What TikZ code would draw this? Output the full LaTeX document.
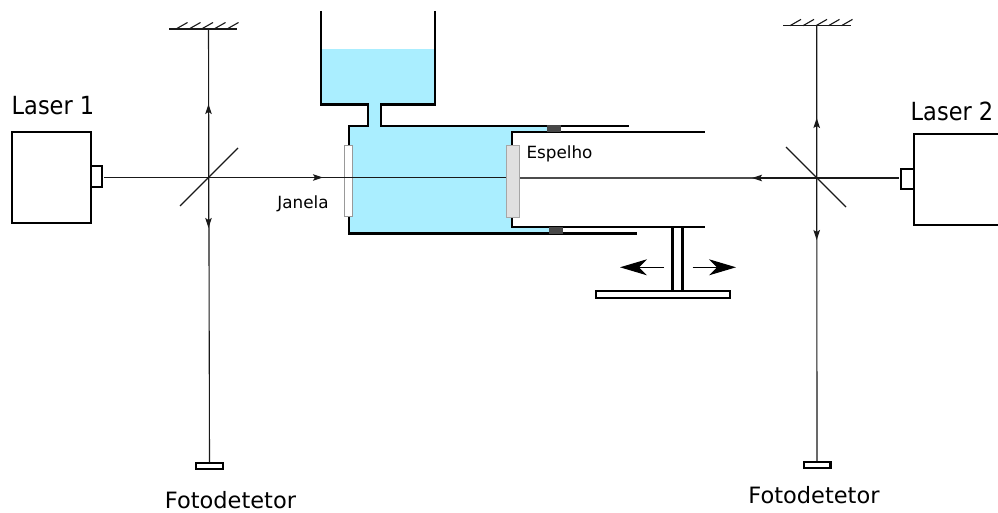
\documentclass[tikz,border=0pt]{standalone}
\usepackage{graphicx}
\usepackage{fontspec}
\setmainfont{DejaVu Sans}
\usetikzlibrary{arrows.meta}
\definecolor{water}{HTML}{AAEEFF}
\tikzset{
  wall/.style={line width=2.4pt,draw=black,line cap=butt,line join=miter},
  beam/.style={line width=1.1pt,draw=black!90},
  beamtip/.style={beam,-{Stealth[length=10pt,width=6.5pt,inset=2pt]}},
  thin line/.style={line width=1.1pt,draw=black!90},
  box/.style={draw=black,line width=2.4pt,fill=white,inner sep=0pt,minimum width=#1},
  big/.style={font=\fontsize{22.5}{26}\selectfont,inner sep=0pt},
  small/.style={font=\fontsize{16.8}{20}\selectfont,inner sep=0pt},
  seal/.style={fill=black!72,draw=none},
  bigtip/.style={line width=1.1pt,-{Stealth[length=27pt,width=16pt,inset=8pt]}}
}
\begin{document}
\begin{tikzpicture}[x=1pt,y=-1pt]
\useasboundingbox (0,0) rectangle (998,513);
% water
\fill[water] (321,49) rectangle (435,105);
\fill[water] (368,104) rectangle (381,127);
\fill[water] (349,126) -- (555,126) -- (555,132) -- (512,132) -- (512,227) -- (555,227) -- (555,233.5) -- (349,233.5) -- cycle;
% tank
\draw[wall] (320.7,11) -- (320.7,104.5) -- (368,104.5) -- (368,126) -- (349,126) -- (349,233.5) -- (637,233.5);
\draw[wall] (434.7,11) -- (434.7,104.5) -- (381,104.5) -- (381,126) -- (629,126);
\draw[wall] (512,145) -- (512,132) -- (705,132);
\draw[wall] (512,218) -- (512,226.7) -- (705,226.7);
\fill[seal] (546.7,125.5) rectangle (560.7,132);
\fill[seal] (549,227) rectangle (563,233.5);
% beam
\coordinate (s1) at (208.5,177.5);
\coordinate (s2) at (816.7,178);
\coordinate (p1) at (323,177.5);
\coordinate (p2) at (752,178);
\coordinate (m1) at (208.5,29);
\coordinate (m2) at (816.7,26);
% window and mirror
\draw[draw=black!40,fill=white,line width=1pt] (344.7,146) rectangle (352,216.7);
\node[draw=black!35,fill=black!12,line width=1.2pt,minimum width=13pt,minimum height=72pt,inner sep=0pt] (espelho) at (513,181.5) {};
% lasers
\node[box=79pt,minimum height=91pt] (laserA) at (51.5,177.5) {};
\node[box=11pt,minimum height=21pt] (portA) at (96.5,176.5) {};
\node[box=90pt,minimum height=91.5pt] (laserB) at (959,179.5) {};
\node[box=13pt,minimum height=20pt] (portB) at (907.5,179) {};
\node[big] at (53,106) {\scalebox{1}[1.11]{Laser 1}};
\node[big] at (952,111) {\scalebox{1}[1.11]{Laser 2}};
% detectors
\node[draw=black,line width=2.4pt,fill=white,minimum width=26.6pt,minimum height=5.6pt,inner sep=0pt] (detA) at (209.5,466) {};
\node[draw=black,line width=2.4pt,fill=white,minimum width=26.6pt,minimum height=5.6pt,inner sep=0pt] (detB) at (817,465) {};
\node[big] at (230.5,500) {Fotodetetor};
\node[big] at (814,495.5) {Fotodetetor};
\node[small] at (303,203.5) {Janela};
\node[small] at (559.5,154) {Espelho};
% beams
\draw[beam] (104,177.5) -- (s1) -- (p1);
\draw[beamtip] (s1) -- (p1);
\draw[beam] (p1) -- (espelho.west |- p1);
\draw[beam,draw=black!70] (espelho.east |- s2) -- (s2);
\draw[beamtip] (s2) -- (p2);
\draw[beam] (s2) -- (899,178);
\draw[beam] (m1) -- (detA.north);
\draw[beam] (m2) -- (detB.north);
\draw[beamtip] (s1) -- (208.5,104);
\draw[beamtip] (s1) -- (208.5,228);
\draw[beamtip] (s2) -- (816.7,118);
\draw[beamtip] (s2) -- (816.7,240);
% splitters
\draw[thin line] (180,206) -- (238,148);
\draw[thin line] (786,147) -- (846,207);
% fixed mirrors
\draw[thin line] (169,29) -- (237,29);
\foreach \x in {176,189,201.5,214,227} \draw[thin line] (\x,29) -- +(11.5,-6.5);
\draw[thin line] (783,25.7) -- (851,25.7);
\foreach \x in {790,803,816,828.5,841.5} \draw[thin line] (\x,25.7) -- +(11,-6.3);
% carriage
\draw[wall] (672.3,227) -- (672.3,290);
\draw[wall] (682.3,227) -- (682.3,290);
\node[draw=black,line width=2.4pt,fill=white,minimum width=134pt,minimum height=7pt,inner sep=0pt] (base) at (663,294.3) {};
\draw[bigtip] (664,267.3) -- (620,267.3);
\draw[bigtip] (692.7,267.3) -- (736,267.3);
\end{tikzpicture}
\end{document}
